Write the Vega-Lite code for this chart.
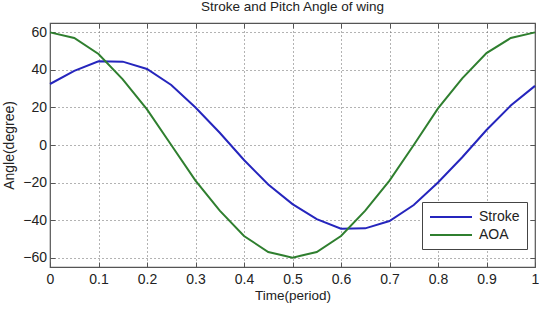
{
  "$schema": "https://vega.github.io/schema/vega-lite/v6.json",
  "width": 485,
  "height": 244,
  "autosize": "none",
  "padding": {"left": 50, "top": 23, "right": 4, "bottom": 42},
  "background": "white",
  "title": {"text": "Stroke and Pitch Angle of wing", "fontSize": 13.5, "font": "Liberation Sans", "fontWeight": "normal", "color": "#222", "offset": 9, "anchor": "middle"},
  "config": {
    "view": {"stroke": "#555", "strokeWidth": 1.2},
    "axis": {"labelFont": "Liberation Sans", "titleFont": "Liberation Sans", "labelFontSize": 14, "titleFontSize": 13.5, "labelColor": "#222", "titleColor": "#222", "titleFontWeight": "normal", "domain": false, "tickColor": "#555", "gridColor": "#666", "gridDash": [1, 3], "gridOpacity": 1, "gridWidth": 1}
  },
  "data": {"values": [
    {"t": 0, "v": 32.5, "s": "Stroke"}, {"t": 0.05, "v": 39.5, "s": "Stroke"}, {"t": 0.1, "v": 44.6, "s": "Stroke"}, {"t": 0.15, "v": 44.4, "s": "Stroke"}, {"t": 0.2, "v": 40.5, "s": "Stroke"}, {"t": 0.25, "v": 32, "s": "Stroke"}, {"t": 0.3, "v": 20, "s": "Stroke"}, {"t": 0.35, "v": 6.5, "s": "Stroke"}, {"t": 0.4, "v": -8, "s": "Stroke"}, {"t": 0.45, "v": -21, "s": "Stroke"}, {"t": 0.5, "v": -31.5, "s": "Stroke"}, {"t": 0.55, "v": -39.5, "s": "Stroke"}, {"t": 0.6, "v": -44.6, "s": "Stroke"}, {"t": 0.65, "v": -44.4, "s": "Stroke"}, {"t": 0.7, "v": -40.5, "s": "Stroke"}, {"t": 0.75, "v": -32, "s": "Stroke"}, {"t": 0.8, "v": -20, "s": "Stroke"}, {"t": 0.85, "v": -6.5, "s": "Stroke"}, {"t": 0.9, "v": 8, "s": "Stroke"}, {"t": 0.95, "v": 21, "s": "Stroke"}, {"t": 1, "v": 31.5, "s": "Stroke"},
    {"t": 0, "v": 60, "s": "AOA"}, {"t": 0.05, "v": 57, "s": "AOA"}, {"t": 0.1, "v": 48.5, "s": "AOA"}, {"t": 0.15, "v": 35, "s": "AOA"}, {"t": 0.2, "v": 19, "s": "AOA"}, {"t": 0.25, "v": 0, "s": "AOA"}, {"t": 0.3, "v": -19, "s": "AOA"}, {"t": 0.35, "v": -35, "s": "AOA"}, {"t": 0.4, "v": -48.5, "s": "AOA"}, {"t": 0.45, "v": -57, "s": "AOA"}, {"t": 0.5, "v": -60, "s": "AOA"}, {"t": 0.55, "v": -57, "s": "AOA"}, {"t": 0.6, "v": -48.5, "s": "AOA"}, {"t": 0.65, "v": -35, "s": "AOA"}, {"t": 0.7, "v": -19, "s": "AOA"}, {"t": 0.75, "v": 0, "s": "AOA"}, {"t": 0.8, "v": 19.5, "s": "AOA"}, {"t": 0.85, "v": 35.5, "s": "AOA"}, {"t": 0.9, "v": 49, "s": "AOA"}, {"t": 0.95, "v": 57, "s": "AOA"}, {"t": 1, "v": 60, "s": "AOA"}
  ]},
  "layer": [
    {
      "mark": {"type": "line", "strokeWidth": 2},
      "encoding": {
        "x": {"field": "t", "type": "quantitative", "scale": {"domain": [0, 1], "nice": false, "zero": false},
              "axis": {"title": "Time(period)", "values": [0, 0.1, 0.2, 0.3, 0.4, 0.5, 0.6, 0.7, 0.8, 0.9, 1], "format": "~g", "grid": true, "tickSize": -5, "labelPadding": 10, "titlePadding": 2, "labelFlush": false}},
        "y": {"field": "v", "type": "quantitative", "scale": {"domain": [-65, 65], "nice": false, "zero": false},
              "axis": {"title": "Angle(degree)", "titleFontSize": 14, "values": [-60, -40, -20, 0, 20, 40, 60], "grid": true, "tickSize": -5, "labelPadding": 8.5, "titlePadding": 6}},
        "color": {"field": "s", "type": "nominal", "sort": ["Stroke", "AOA"],
                  "scale": {"domain": ["Stroke", "AOA"], "range": ["#2525bd", "#2f7f2f"]},
                  "legend": {"title": null, "orient": "none", "legendX": 372, "legendY": 179, "direction": "vertical", "symbolType": "M-1,0H5", "symbolSize": 196, "symbolStrokeWidth": 2, "labelFontSize": 14, "labelFont": "Liberation Sans", "labelColor": "#222", "labelOffset": 34, "strokeColor": "#444", "fillColor": "white", "padding": 7, "rowPadding": 3, "cornerRadius": 0}}
      }
    },
    {
      "mark": {"type": "line", "opacity": 0},
      "encoding": {
        "x": {"field": "t", "type": "quantitative", "axis": {"orient": "top", "title": null, "labels": false, "grid": false, "values": [0, 0.1, 0.2, 0.3, 0.4, 0.5, 0.6, 0.7, 0.8, 0.9, 1], "tickSize": -5}},
        "y": {"field": "v", "type": "quantitative", "axis": {"orient": "right", "title": null, "labels": false, "grid": false, "values": [-60, -40, -20, 0, 20, 40, 60], "tickSize": -5}},
        "detail": {"field": "s"}
      }
    }
  ],
  "resolve": {"axis": {"x": "independent", "y": "independent"}}
}
